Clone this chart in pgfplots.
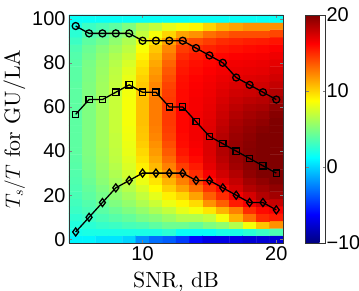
\documentclass[border=0pt]{standalone}
\usepackage{fontspec}
\usepackage{pgfplots}
\pgfplotsset{compat=1.18}
\newfontfamily\hv{Liberation Sans}
\newfontfamily\lmten{lmroman10-regular.otf}
\begin{document}
\begin{tikzpicture}
\begin{axis}[
  name=main,
  scale only axis, width=214bp, height=228bp,
  xmin=4.5, xmax=20.5, ymin=-1.6667, ymax=101.6667,
  xtick={10,20}, ytick={0,20,40,60,80,100},
  tick align=inside, major tick length=3bp,
  axis line style={black!80, line width=0.7bp},
  /pgf/number format/assume math mode=true,
  tick label style={font=\hv\fontsize{20}{20}\selectfont},
  label style={font=\lmten\fontsize{22}{26}\selectfont},
  xlabel={SNR, dB}, ylabel={$T_s/T$ for GU/LA},
  xlabel style={at={(axis description cs:0.5,-0.193)}, anchor=base},
  ylabel style={at={(axis description cs:-0.229,0.5)}, anchor=base, rotate=0},
  colormap/jet, point meta min=-10, point meta max=20,
  colorbar,
  colorbar style={width=20bp, at={(parent axis.north east)}, anchor=north west, xshift=14bp,
    ytick={-10,0,10,20}, yticklabels={−10,0,10,20},
    tick align=inside, major tick length=3bp,
    tick label style={font=\hv\fontsize{20}{20}\selectfont},
    yticklabel style={xshift=-2.5bp},
    axis line style={black!80, line width=0.7bp}},
  axis on top,
]
\addplot[matrix plot*, mesh/rows=31, mesh/cols=16, mesh/ordering=y varies, point meta=explicit] table[meta=c] {
x y c
5 0 1
5 3.333 1.8
5 6.667 2.2
5 10 2.6
5 13.333 3
5 16.667 3.2
5 20 3.4
5 23.333 3.5
5 26.667 3.6
5 30 3.7
5 33.333 3.8
5 36.667 3.9
5 40 4
5 43.333 4
5 46.667 4
5 50 4
5 53.333 4
5 56.667 4
5 60 4
5 63.333 4
5 66.667 4
5 70 4
5 73.333 3.9
5 76.667 3.9
5 80 3.8
5 83.333 3.7
5 86.667 3.5
5 90 3
5 93.333 2.5
5 96.667 2
5 100 1.5
6 0 1
6 3.333 2
6 6.667 2.5
6 10 3
6 13.333 3.4
6 16.667 3.7
6 20 4
6 23.333 4.2
6 26.667 4.4
6 30 4.6
6 33.333 4.8
6 36.667 4.9
6 40 5
6 43.333 5
6 46.667 5
6 50 5
6 53.333 5
6 56.667 5
6 60 5
6 63.333 5
6 66.667 5
6 70 5
6 73.333 4.9
6 76.667 4.9
6 80 4.8
6 83.333 4.6
6 86.667 4.4
6 90 4
6 93.333 3.5
6 96.667 3
6 100 1.5
7 0 0.5
7 3.333 2
7 6.667 2.8
7 10 3.4
7 13.333 3.9
7 16.667 4.3
7 20 4.7
7 23.333 5
7 26.667 5.3
7 30 5.5
7 33.333 5.7
7 36.667 5.8
7 40 5.9
7 43.333 6
7 46.667 6
7 50 6
7 53.333 6
7 56.667 6
7 60 6
7 63.333 6
7 66.667 6
7 70 6
7 73.333 5.9
7 76.667 5.8
7 80 5.7
7 83.333 5.5
7 86.667 5.2
7 90 4.6
7 93.333 4
7 96.667 3.5
7 100 1.5
8 0 0.5
8 3.333 2
8 6.667 3
8 10 3.8
8 13.333 4.4
8 16.667 5
8 20 5.4
8 23.333 5.8
8 26.667 6.1
8 30 6.4
8 33.333 6.6
8 36.667 6.8
8 40 6.9
8 43.333 7
8 46.667 7
8 50 7.1
8 53.333 7.1
8 56.667 7.1
8 60 7.1
8 63.333 7.1
8 66.667 7
8 70 7
8 73.333 6.9
8 76.667 6.8
8 80 6.6
8 83.333 6.4
8 86.667 6
8 90 5.5
8 93.333 5
8 96.667 4
8 100 1.5
9 0 0
9 3.333 2
9 6.667 3.3
9 10 4.2
9 13.333 5
9 16.667 5.6
9 20 6.1
9 23.333 6.6
9 26.667 7
9 30 7.4
9 33.333 7.7
9 36.667 7.9
9 40 8.1
9 43.333 8.2
9 46.667 8.3
9 50 8.4
9 53.333 8.5
9 56.667 8.5
9 60 8.5
9 63.333 8.5
9 66.667 8.4
9 70 8.3
9 73.333 8.1
9 76.667 7.9
9 80 7.6
9 83.333 7.2
9 86.667 6.8
9 90 6.4
9 93.333 5.6
9 96.667 5
9 100 1.5
10 0 -2
10 3.333 2
10 6.667 3.5
10 10 4.8
10 13.333 5.6
10 16.667 6.4
10 20 7
10 23.333 7.6
10 26.667 8.2
10 30 8.7
10 33.333 9.2
10 36.667 9.6
10 40 9.9
10 43.333 10.2
10 46.667 10.4
10 50 10.5
10 53.333 10.6
10 56.667 10.6
10 60 10.6
10 63.333 10.6
10 66.667 10.5
10 70 10.3
10 73.333 10.1
10 76.667 9.8
10 80 9.5
10 83.333 9.1
10 86.667 8.6
10 90 8
10 93.333 7
10 96.667 6.3
10 100 1.5
11 0 -3
11 3.333 2
11 6.667 4
11 10 5.2
11 13.333 6.3
11 16.667 7.2
11 20 8
11 23.333 8.8
11 26.667 9.5
11 30 10.2
11 33.333 10.8
11 36.667 11.3
11 40 11.7
11 43.333 12
11 46.667 12.3
11 50 12.5
11 53.333 12.6
11 56.667 12.6
11 60 12.6
11 63.333 12.6
11 66.667 12.5
11 70 12.3
11 73.333 12
11 76.667 11.7
11 80 11.3
11 83.333 10.9
11 86.667 10.4
11 90 9.6
11 93.333 8.5
11 96.667 7
11 100 1.5
12 0 -3.5
12 3.333 2.5
12 6.667 4.5
12 10 5.8
12 13.333 7
12 16.667 8.2
12 20 9.2
12 23.333 10.2
12 26.667 11
12 30 11.8
12 33.333 12.5
12 36.667 13.1
12 40 13.6
12 43.333 14
12 46.667 14.3
12 50 14.5
12 53.333 14.6
12 56.667 14.6
12 60 14.6
12 63.333 14.6
12 66.667 14.5
12 70 14.3
12 73.333 14
12 76.667 13.7
12 80 13.3
12 83.333 12.8
12 86.667 12.3
12 90 11.5
12 93.333 10
12 96.667 8
12 100 1.5
13 0 -4.5
13 3.333 1.5
13 6.667 4.5
13 10 6.5
13 13.333 8
13 16.667 9
13 20 10
13 23.333 11.5
13 26.667 12.5
13 30 13.5
13 33.333 14.5
13 36.667 15.2
13 40 15.6
13 43.333 15.9
13 46.667 16
13 50 16.1
13 53.333 16.1
13 56.667 16.1
13 60 16.1
13 63.333 16
13 66.667 16
13 70 15.9
13 73.333 15.8
13 76.667 15.6
13 80 15.4
13 83.333 15
13 86.667 14.5
13 90 13.5
13 93.333 11.5
13 96.667 8.5
13 100 1.5
14 0 -6
14 3.333 1.5
14 6.667 4.2
14 10 6.5
14 13.333 8.5
14 16.667 9.8
14 20 11.5
14 23.333 13
14 26.667 14
14 30 15
14 33.333 15.5
14 36.667 16
14 40 16.3
14 43.333 16.5
14 46.667 16.6
14 50 16.6
14 53.333 16.6
14 56.667 16.6
14 60 16.5
14 63.333 16.5
14 66.667 16.4
14 70 16.3
14 73.333 16.2
14 76.667 16
14 80 15.8
14 83.333 15.5
14 86.667 15
14 90 14
14 93.333 12
14 96.667 9
14 100 1.5
15 0 -7
15 3.333 1.5
15 6.667 5
15 10 7
15 13.333 9.5
15 16.667 12
15 20 13.5
15 23.333 14.8
15 26.667 15.8
15 30 16.5
15 33.333 17
15 36.667 17.2
15 40 17.3
15 43.333 17.3
15 46.667 17.3
15 50 17.2
15 53.333 17.1
15 56.667 17
15 60 16.9
15 63.333 16.8
15 66.667 16.7
15 70 16.6
15 73.333 16.5
15 76.667 16.3
15 80 16.1
15 83.333 15.8
15 86.667 15.3
15 90 14.5
15 93.333 13
15 96.667 10
15 100 1.5
16 0 -7
16 3.333 2
16 6.667 5.5
16 10 8.5
16 13.333 11
16 16.667 13.5
16 20 15
16 23.333 16
16 26.667 17
16 30 17.6
16 33.333 18
16 36.667 18.3
16 40 18.5
16 43.333 18.5
16 46.667 18.4
16 50 18.2
16 53.333 18
16 56.667 17.8
16 60 17.6
16 63.333 17.4
16 66.667 17.2
16 70 17
16 73.333 16.8
16 76.667 16.6
16 80 16.4
16 83.333 16.1
16 86.667 15.6
16 90 15
16 93.333 13.5
16 96.667 11
16 100 1.5
17 0 -7
17 3.333 2
17 6.667 6.5
17 10 11
17 13.333 12.5
17 16.667 15.5
17 20 16.5
17 23.333 17.5
17 26.667 18
17 30 18.5
17 33.333 19
17 36.667 19.2
17 40 19.3
17 43.333 19.3
17 46.667 19.2
17 50 19
17 53.333 18.8
17 56.667 18.5
17 60 18.2
17 63.333 17.9
17 66.667 17.6
17 70 17.3
17 73.333 17
17 76.667 16.8
17 80 16.6
17 83.333 16.3
17 86.667 15.8
17 90 15.2
17 93.333 14
17 96.667 11.5
17 100 1.5
18 0 -7.5
18 3.333 2.5
18 6.667 8.5
18 10 13
18 13.333 15
18 16.667 16.5
18 20 17.5
18 23.333 18.5
18 26.667 19
18 30 19.5
18 33.333 19.7
18 36.667 19.8
18 40 19.8
18 43.333 19.7
18 46.667 19.6
18 50 19.4
18 53.333 19.2
18 56.667 18.9
18 60 18.6
18 63.333 18.2
18 66.667 17.8
18 70 17.5
18 73.333 17.2
18 76.667 16.9
18 80 16.7
18 83.333 16.4
18 86.667 16
18 90 15.4
18 93.333 14
18 96.667 12
18 100 1.5
19 0 -7.5
19 3.333 3
19 6.667 10.5
19 10 15
19 13.333 16
19 16.667 17.5
19 20 18.5
19 23.333 19
19 26.667 19.5
19 30 20
19 33.333 20
19 36.667 20
19 40 20
19 43.333 20
19 46.667 20
19 50 19.8
19 53.333 19.5
19 56.667 19.2
19 60 18.8
19 63.333 18.4
19 66.667 18
19 70 17.6
19 73.333 17.3
19 76.667 17
19 80 16.8
19 83.333 16.5
19 86.667 16.1
19 90 15.5
19 93.333 14
19 96.667 12
19 100 1.5
20 0 -7.5
20 3.333 3.5
20 6.667 12
20 10 15.5
20 13.333 16.5
20 16.667 18
20 20 19
20 23.333 19.5
20 26.667 20
20 30 20
20 33.333 20
20 36.667 20
20 40 20
20 43.333 20
20 46.667 20
20 50 20
20 53.333 20
20 56.667 19.8
20 60 19.5
20 63.333 19
20 66.667 18.5
20 70 18
20 73.333 17.6
20 76.667 17.3
20 80 17
20 83.333 16.7
20 86.667 16.3
20 90 15.7
20 93.333 14.2
20 96.667 12
20 100 1.5
};
\addplot[black, line width=1.3bp, mark=o, mark size=3.5bp, mark options={solid, line width=1.3bp}] coordinates {
(5,96.667)(6,93.333)(7,93.333)(8,93.333)(9,93.333)(10,90)(11,90)(12,90)(13,90)(14,86.667)(15,83.333)(16,80)(17,73.333)(18,70)(19,66.667)(20,63.333)};
\addplot[black, line width=1.3bp, mark=square, mark size=3.1bp, mark options={solid, line width=1.3bp}] coordinates {
(5,56.667)(6,63.333)(7,63.333)(8,66.667)(9,70)(10,66.667)(11,66.667)(12,60)(13,60)(14,53.333)(15,46.667)(16,43.333)(17,40)(18,36.667)(19,33.333)(20,30)};
\addplot[black, line width=1.3bp, mark=diamond, mark size=4bp, mark options={solid, line width=1.3bp}] coordinates {
(5,3.333)(6,10)(7,16.667)(8,23.333)(9,26.667)(10,30)(11,30)(12,30)(13,30)(14,26.667)(15,26.667)(16,23.333)(17,20)(18,16.667)(19,16.667)(20,13.333)};
\end{axis}
\pgfresetboundingbox
\path[use as bounding box] ([xshift=-69bp,yshift=-48bp]main.south west) rectangle ([xshift=290bp,yshift=243bp]main.south west);
\end{tikzpicture}
\end{document}
